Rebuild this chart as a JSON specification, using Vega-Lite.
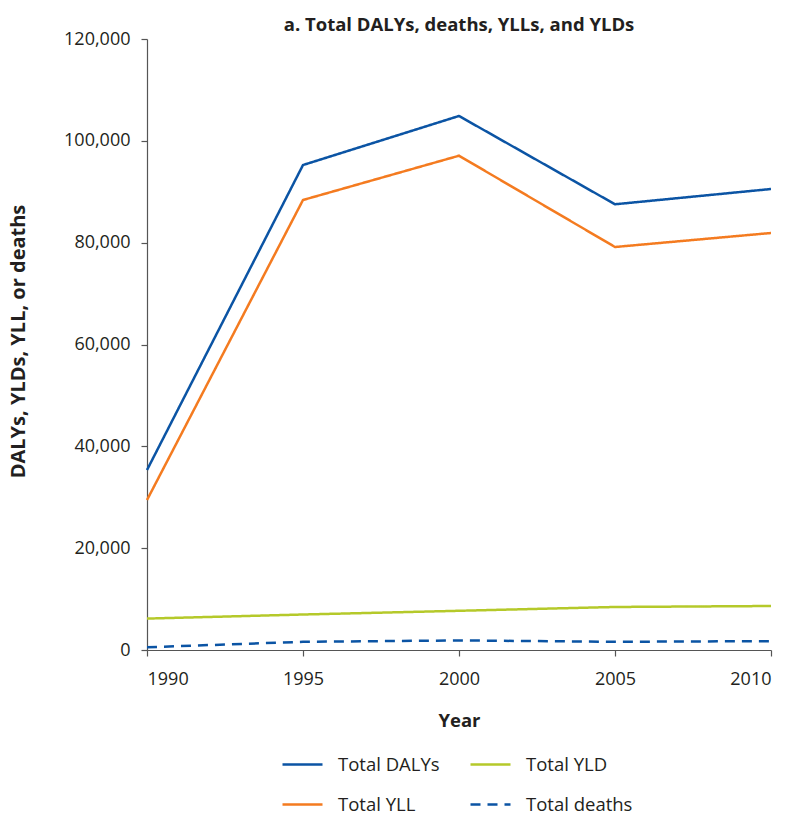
{
  "$schema": "https://vega.github.io/schema/vega-lite/v6.json",
  "autosize": "none",
  "width": 624,
  "height": 611,
  "padding": {"left": 147, "top": 39, "right": 22, "bottom": 167},
  "background": "white",
  "title": {
    "text": "a. Total DALYs, deaths, YLLs, and YLDs",
    "font": "Open Sans",
    "fontSize": 18.5,
    "fontWeight": "bold",
    "color": "#231f20",
    "anchor": "middle",
    "offset": -4
  },
  "config": {
    "view": {"stroke": null},
    "font": "Open Sans",
    "axis": {
      "grid": false,
      "labelFont": "Open Sans",
      "labelFontSize": 18,
      "labelColor": "#231f20",
      "titleFont": "Open Sans",
      "titleFontSize": 18.5,
      "titleFontWeight": "bold",
      "titleColor": "#231f20",
      "domainColor": "#555555",
      "tickColor": "#555555",
      "tickSize": 6,
      "domainWidth": 1.2,
      "tickWidth": 1.2
    }
  },
  "data": {
    "values": [
      {"year": 1990, "series": "Total DALYs", "value": 35350},
      {"year": 1995, "series": "Total DALYs", "value": 95250},
      {"year": 2000, "series": "Total DALYs", "value": 104880},
      {"year": 2005, "series": "Total DALYs", "value": 87540},
      {"year": 2010, "series": "Total DALYs", "value": 90540},
      {"year": 1990, "series": "Total YLL", "value": 29460},
      {"year": 1995, "series": "Total YLL", "value": 88380},
      {"year": 2000, "series": "Total YLL", "value": 97080},
      {"year": 2005, "series": "Total YLL", "value": 79150},
      {"year": 2010, "series": "Total YLL", "value": 81900},
      {"year": 1990, "series": "Total YLD", "value": 6170},
      {"year": 1995, "series": "Total YLD", "value": 6970},
      {"year": 2000, "series": "Total YLD", "value": 7700},
      {"year": 2005, "series": "Total YLD", "value": 8450},
      {"year": 2010, "series": "Total YLD", "value": 8640},
      {"year": 1990, "series": "Total deaths", "value": 540},
      {"year": 1995, "series": "Total deaths", "value": 1610},
      {"year": 2000, "series": "Total deaths", "value": 1880},
      {"year": 2005, "series": "Total deaths", "value": 1610},
      {"year": 2010, "series": "Total deaths", "value": 1740}
    ]
  },
  "mark": {"type": "line", "strokeWidth": 2.5},
  "encoding": {
    "x": {
      "field": "year",
      "type": "quantitative",
      "scale": {"domain": [1990, 2010], "nice": false, "zero": false},
      "axis": {
        "values": [1990, 1995, 2000, 2005, 2010],
        "format": "d",
        "title": "Year",
        "labelPadding": 14,
        "titleY": 70,
        "titleBaseline": "middle"
      }
    },
    "y": {
      "field": "value",
      "type": "quantitative",
      "scale": {"domain": [0, 120000], "nice": false},
      "axis": {
        "values": [0, 20000, 40000, 60000, 80000, 100000, 120000],
        "format": ",d",
        "title": "DALYs, YLDs, YLL, or deaths",
        "labelPadding": 11,
        "titleFontSize": 20,
        "titleAngle": -90,
        "titleX": -129,
        "titleY": 302,
        "titleAlign": "center",
        "titleBaseline": "middle"
      }
    },
    "color": {
      "field": "series",
      "type": "nominal",
      "scale": {
        "domain": ["Total DALYs", "Total YLD", "Total YLL", "Total deaths"],
        "range": ["#0b54a4", "#b5c92a", "#f47b20", "#0b54a4"]
      },
      "legend": {
        "title": null,
        "orient": "none",
        "direction": "horizontal",
        "legendX": 134,
        "legendY": 704,
        "columns": 2,
        "symbolType": "stroke",
        "symbolSize": 1600,
        "symbolStrokeWidth": 2.5,
        "labelFont": "Open Sans",
        "labelFontSize": 18.5,
        "labelColor": "#231f20",
        "labelOffset": 14,
        "rowPadding": 9,
        "columnPadding": 25
      }
    },
    "strokeDash": {
      "field": "series",
      "type": "nominal",
      "scale": {
        "domain": ["Total DALYs", "Total YLD", "Total YLL", "Total deaths"],
        "range": [[1, 0], [1, 0], [1, 0], [10, 7]]
      },
      "legend": {
        "title": null,
        "orient": "none",
        "direction": "horizontal",
        "legendX": 134,
        "legendY": 704,
        "columns": 2,
        "symbolType": "stroke",
        "symbolSize": 1600,
        "symbolStrokeWidth": 2.5,
        "labelFont": "Open Sans",
        "labelFontSize": 18.5,
        "labelColor": "#231f20",
        "labelOffset": 14,
        "rowPadding": 9,
        "columnPadding": 25
      }
    }
  }
}
